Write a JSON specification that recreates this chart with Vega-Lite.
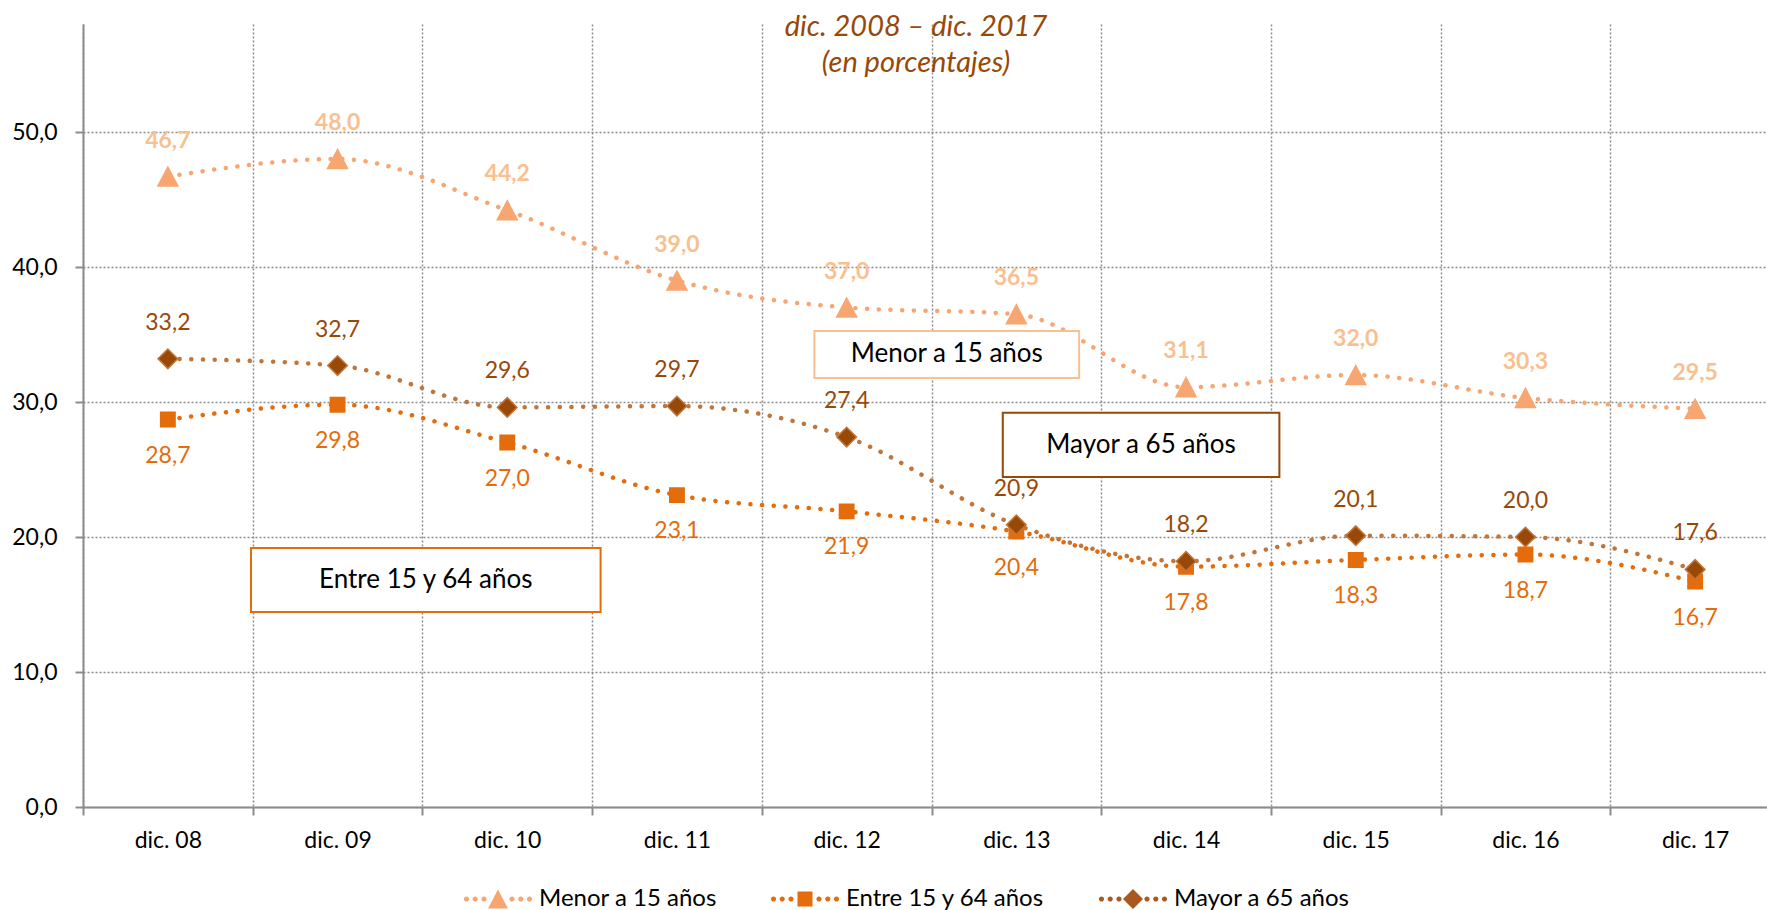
{
  "$schema": "https://vega.github.io/schema/vega-lite/v6.json",
  "width": 1684,
  "height": 783,
  "autosize": {"type": "none"},
  "padding": {"left": 83, "top": 24, "right": 0, "bottom": 103},
  "background": "white",
  "config": {
    "locale": {"number": {"decimal": ",", "thousands": ".", "grouping": [3], "currency": ["", " €"]}},
    "view": {"stroke": null},
    "font": "Lato",
    "axisY": {
      "title": null,
      "format": ".1f",
      "grid": true,
      "gridColor": "#8c8c8c",
      "gridDash": [2, 2],
      "gridWidth": 1.5,
      "domainColor": "#8c8c8c",
      "domainWidth": 2,
      "tickColor": "#8c8c8c",
      "tickWidth": 2,
      "tickSize": 8,
      "labelFont": "Lato",
      "labelFontSize": 23,
      "labelColor": "black",
      "labelPadding": 18
    }
  },
  "title": {
    "text": ["dic. 2008 – dic. 2017", "(en porcentajes)"],
    "font": "Lato",
    "fontStyle": "italic",
    "fontWeight": "normal",
    "fontSize": 29,
    "color": "#984807",
    "lineHeight": 36,
    "anchor": "middle",
    "frame": "group",
    "baseline": "alphabetic",
    "offset": -77,
    "dx": -9
  },
  "datasets": {
    "series": [
      {"fecha": "dic. 08", "serie": "Menor a 15 años", "valor": 46.7},
      {"fecha": "dic. 09", "serie": "Menor a 15 años", "valor": 48.0},
      {"fecha": "dic. 10", "serie": "Menor a 15 años", "valor": 44.2},
      {"fecha": "dic. 11", "serie": "Menor a 15 años", "valor": 39.0},
      {"fecha": "dic. 12", "serie": "Menor a 15 años", "valor": 37.0},
      {"fecha": "dic. 13", "serie": "Menor a 15 años", "valor": 36.5},
      {"fecha": "dic. 14", "serie": "Menor a 15 años", "valor": 31.1},
      {"fecha": "dic. 15", "serie": "Menor a 15 años", "valor": 32.0},
      {"fecha": "dic. 16", "serie": "Menor a 15 años", "valor": 30.3},
      {"fecha": "dic. 17", "serie": "Menor a 15 años", "valor": 29.5},
      {"fecha": "dic. 08", "serie": "Entre 15 y 64 años", "valor": 28.7},
      {"fecha": "dic. 09", "serie": "Entre 15 y 64 años", "valor": 29.8},
      {"fecha": "dic. 10", "serie": "Entre 15 y 64 años", "valor": 27.0},
      {"fecha": "dic. 11", "serie": "Entre 15 y 64 años", "valor": 23.1},
      {"fecha": "dic. 12", "serie": "Entre 15 y 64 años", "valor": 21.9},
      {"fecha": "dic. 13", "serie": "Entre 15 y 64 años", "valor": 20.4},
      {"fecha": "dic. 14", "serie": "Entre 15 y 64 años", "valor": 17.8},
      {"fecha": "dic. 15", "serie": "Entre 15 y 64 años", "valor": 18.3},
      {"fecha": "dic. 16", "serie": "Entre 15 y 64 años", "valor": 18.7},
      {"fecha": "dic. 17", "serie": "Entre 15 y 64 años", "valor": 16.7},
      {"fecha": "dic. 08", "serie": "Mayor a 65 años", "valor": 33.2},
      {"fecha": "dic. 09", "serie": "Mayor a 65 años", "valor": 32.7},
      {"fecha": "dic. 10", "serie": "Mayor a 65 años", "valor": 29.6},
      {"fecha": "dic. 11", "serie": "Mayor a 65 años", "valor": 29.7},
      {"fecha": "dic. 12", "serie": "Mayor a 65 años", "valor": 27.4},
      {"fecha": "dic. 13", "serie": "Mayor a 65 años", "valor": 20.9},
      {"fecha": "dic. 14", "serie": "Mayor a 65 años", "valor": 18.2},
      {"fecha": "dic. 15", "serie": "Mayor a 65 años", "valor": 20.1},
      {"fecha": "dic. 16", "serie": "Mayor a 65 años", "valor": 20.0},
      {"fecha": "dic. 17", "serie": "Mayor a 65 años", "valor": 17.6}
    ],
    "notas": [
      {"texto": "Menor a 15 años", "x1": 4.31, "x2": 5.87, "y1": 31.78, "y2": 35.26},
      {"texto": "Mayor a 65 años", "x1": 5.42, "x2": 7.05, "y1": 24.44, "y2": 29.2},
      {"texto": "Entre 15 y 64 años", "x1": 0.99, "x2": 3.05, "y1": 14.44, "y2": 19.19}
    ]
  },
  "layer": [
    {
      "data": {"name": "series"},
      "encoding": {
        "x": {
          "field": "fecha",
          "type": "ordinal",
          "sort": null,
          "scale": {"type": "band", "paddingInner": 0, "paddingOuter": 0, "range": [0, 1697]},
          "axis": {
            "title": null,
            "tickBand": "extent",
            "grid": true,
            "gridColor": "#8c8c8c",
            "gridDash": [2, 2],
            "gridWidth": 1.5,
            "domainColor": "#8c8c8c",
            "domainWidth": 2,
            "tickColor": "#8c8c8c",
            "tickWidth": 2,
            "tickSize": 8,
            "labelFont": "Lato",
            "labelFontSize": 23,
            "labelColor": "black",
            "labelPadding": 14,
            "labelAngle": 0,
            "labelBaseline": "top"
          }
        },
        "y": {
          "field": "valor",
          "type": "quantitative",
          "scale": {"domain": [0, 58], "nice": false, "zero": true},
          "axis": {"title": null, "values": [0, 10, 20, 30, 40, 50]}
        }
      },
      "layer": [
        {
          "mark": {"type": "line", "interpolate": "monotone", "strokeWidth": 4.5, "strokeCap": "round", "strokeDash": [0.1, 11.6]},
          "encoding": {
            "color": {
              "field": "serie",
              "type": "nominal",
              "scale": {"domain": ["Menor a 15 años", "Entre 15 y 64 años", "Mayor a 65 años"], "range": ["#f8a671", "#e46c0a", "#c0763a"]},
              "legend": null
            }
          }
        },
        {
          "mark": {"type": "point", "filled": true, "opacity": 1, "size": 400, "strokeWidth": 1.5},
          "encoding": {
            "shape": {
              "field": "serie",
              "type": "nominal",
              "scale": {
                "domain": ["Menor a 15 años", "Entre 15 y 64 años", "Mayor a 65 años"],
                "range": ["M0,-0.95L-1,0.95L1,0.95Z", "M-0.72,-0.72L0.72,-0.72L0.72,0.72L-0.72,0.72Z", "M-0.98,0L0,-0.98L0.98,0L0,0.98Z"]
              },
              "legend": null
            },
            "color": {
              "field": "serie",
              "type": "nominal",
              "scale": {"domain": ["Menor a 15 años", "Entre 15 y 64 años", "Mayor a 65 años"], "range": ["#f8a671", "#e46c0a", "#984807"]},
              "legend": null
            },
            "stroke": {
              "field": "serie",
              "type": "nominal",
              "scale": {"domain": ["Menor a 15 años", "Entre 15 y 64 años", "Mayor a 65 años"], "range": ["#f8a671", "#e46c0a", "#c0763a"]},
              "legend": null
            }
          }
        },
        {
          "transform": [{"filter": "datum.serie === 'Menor a 15 años'"}],
          "mark": {"type": "text", "dy": -36, "fontWeight": "bold", "fontSize": 23, "font": "Lato", "color": "#fabf8f", "baseline": "middle"},
          "encoding": {"text": {"field": "valor", "type": "quantitative", "format": ".1f"}}
        },
        {
          "transform": [{"filter": "datum.serie === 'Entre 15 y 64 años'"}],
          "mark": {"type": "text", "dy": 36, "fontWeight": "normal", "fontSize": 23, "font": "Lato", "color": "#e46c0a", "baseline": "middle"},
          "encoding": {"text": {"field": "valor", "type": "quantitative", "format": ".1f"}}
        },
        {
          "transform": [{"filter": "datum.serie === 'Mayor a 65 años'"}],
          "mark": {"type": "text", "dy": -36, "fontWeight": "normal", "fontSize": 23, "font": "Lato", "color": "#984807", "baseline": "middle"},
          "encoding": {"text": {"field": "valor", "type": "quantitative", "format": ".1f"}}
        },
        {
          "transform": [{"filter": "false"}],
          "mark": {"type": "point", "filled": true, "opacity": 1, "size": 400, "strokeWidth": 0},
          "encoding": {
            "shape": {
              "field": "serie",
              "type": "nominal",
              "scale": {
                "domain": ["Menor a 15 años", "Entre 15 y 64 años", "Mayor a 65 años"],
                "range": [
                  "M-3.41,0a0.26,0.26 0 1,0 0.52,0a0.26,0.26 0 1,0 -0.52,0ZM-2.54,0a0.26,0.26 0 1,0 0.52,0a0.26,0.26 0 1,0 -0.52,0ZM-1.66,0a0.26,0.26 0 1,0 0.52,0a0.26,0.26 0 1,0 -0.52,0ZM1.14,0a0.26,0.26 0 1,0 0.52,0a0.26,0.26 0 1,0 -0.52,0ZM2.02,0a0.26,0.26 0 1,0 0.52,0a0.26,0.26 0 1,0 -0.52,0ZM2.89,0a0.26,0.26 0 1,0 0.52,0a0.26,0.26 0 1,0 -0.52,0ZM0,-0.95L-1,0.95L1,0.95Z",
                  "M-3.41,0a0.26,0.26 0 1,0 0.52,0a0.26,0.26 0 1,0 -0.52,0ZM-2.54,0a0.26,0.26 0 1,0 0.52,0a0.26,0.26 0 1,0 -0.52,0ZM-1.66,0a0.26,0.26 0 1,0 0.52,0a0.26,0.26 0 1,0 -0.52,0ZM1.14,0a0.26,0.26 0 1,0 0.52,0a0.26,0.26 0 1,0 -0.52,0ZM2.02,0a0.26,0.26 0 1,0 0.52,0a0.26,0.26 0 1,0 -0.52,0ZM2.89,0a0.26,0.26 0 1,0 0.52,0a0.26,0.26 0 1,0 -0.52,0ZM-0.75,-0.75L0.75,-0.75L0.75,0.75L-0.75,0.75Z",
                  "M-3.41,0a0.26,0.26 0 1,0 0.52,0a0.26,0.26 0 1,0 -0.52,0ZM-2.54,0a0.26,0.26 0 1,0 0.52,0a0.26,0.26 0 1,0 -0.52,0ZM-1.66,0a0.26,0.26 0 1,0 0.52,0a0.26,0.26 0 1,0 -0.52,0ZM1.14,0a0.26,0.26 0 1,0 0.52,0a0.26,0.26 0 1,0 -0.52,0ZM2.02,0a0.26,0.26 0 1,0 0.52,0a0.26,0.26 0 1,0 -0.52,0ZM2.89,0a0.26,0.26 0 1,0 0.52,0a0.26,0.26 0 1,0 -0.52,0ZM-1,0L0,-1L1,0L0,1Z"
                ]
              },
              "legend": {
                "title": null, "orient": "none", "legendX": 403, "legendY": 863, "direction": "horizontal",
                "symbolSize": 400, "symbolOffset": 0, "labelOffset": 29, "columnPadding": 53,
                "labelFont": "Lato", "labelFontSize": 24, "labelColor": "black", "labelLimit": 500, "symbolStrokeWidth": 0,
                "symbolOpacity": 1, "padding": 0
              }
            },
            "color": {
              "field": "serie",
              "type": "nominal",
              "scale": {"domain": ["Menor a 15 años", "Entre 15 y 64 años", "Mayor a 65 años"], "range": ["#f8a671", "#e46c0a", "#a9581e"]},
              "legend": {
                "title": null, "orient": "none", "legendX": 403, "legendY": 863, "direction": "horizontal",
                "symbolSize": 400, "symbolOffset": 0, "labelOffset": 29, "columnPadding": 53,
                "labelFont": "Lato", "labelFontSize": 24, "labelColor": "black", "labelLimit": 500, "symbolStrokeWidth": 0,
                "symbolOpacity": 1, "padding": 0
              }
            }
          }
        }
      ],
      "resolve": {"scale": {"color": "independent", "shape": "independent"}}
    },
    {
      "data": {"name": "notas"},
      "layer": [
        {
          "mark": {"type": "rect", "fill": "white", "strokeWidth": 2},
          "encoding": {
            "x": {"field": "x1", "type": "quantitative", "scale": {"domain": [0, 10], "range": [0, 1697], "nice": false, "zero": false}, "axis": null},
            "x2": {"field": "x2"},
            "y": {"field": "y1", "type": "quantitative", "axis": {"title": null, "values": [0, 10, 20, 30, 40, 50]}},
            "y2": {"field": "y2"},
            "stroke": {
              "field": "texto",
              "type": "nominal",
              "scale": {"domain": ["Menor a 15 años", "Entre 15 y 64 años", "Mayor a 65 años"], "range": ["#fac090", "#e46c0a", "#984807"]},
              "legend": null
            }
          }
        },
        {
          "transform": [
            {"calculate": "(datum.x1 + datum.x2) / 2", "as": "xc"},
            {"calculate": "(datum.y1 + datum.y2) / 2", "as": "yc"}
          ],
          "mark": {"type": "text", "font": "Lato", "fontSize": 26, "color": "black", "baseline": "middle", "align": "center"},
          "encoding": {
            "x": {"field": "xc", "type": "quantitative", "axis": null},
            "y": {"field": "yc", "type": "quantitative", "axis": {"title": null, "values": [0, 10, 20, 30, 40, 50]}},
            "text": {"field": "texto", "type": "nominal"}
          }
        }
      ]
    }
  ],
  "resolve": {"scale": {"x": "independent", "stroke": "independent"}}
}
